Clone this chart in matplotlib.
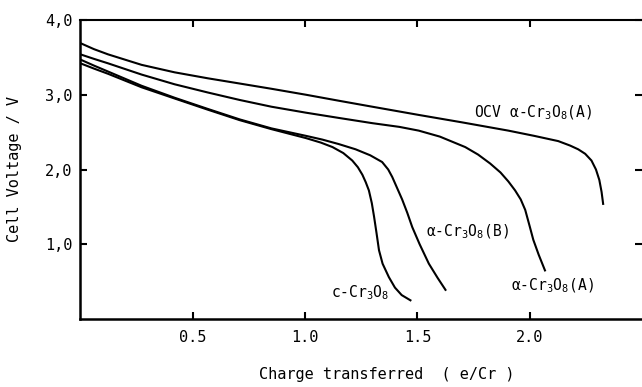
import numpy as np
import matplotlib
matplotlib.use("Agg")
from matplotlib import pyplot as plt

plt.rcParams['font.family'] = ['DejaVu Sans Mono']
plt.rcParams['mathtext.fontset'] = 'custom'
plt.rcParams['mathtext.rm'] = 'DejaVu Sans Mono'
plt.rcParams['mathtext.it'] = 'DejaVu Sans Mono'

# OCV a-Cr3O8(A)
ocv_x = [0.0, 0.06, 0.123, 0.272, 0.419, 0.567, 0.709, 0.85, 1.004, 1.15, 1.299,
         1.506, 1.7, 1.905, 2.02, 2.127, 2.18, 2.216, 2.247, 2.275, 2.295,
         2.31, 2.32, 2.327]
ocv_y = [3.69, 3.61, 3.54, 3.40, 3.30, 3.22, 3.15, 3.08, 3.00, 2.92, 2.84,
         2.73, 2.63, 2.52, 2.45, 2.38, 2.32, 2.27, 2.21, 2.12, 2.00,
         1.86, 1.70, 1.54]

# a-Cr3O8(A) discharge
aA_x = [0.0, 0.06, 0.123, 0.272, 0.419, 0.567, 0.709, 0.85, 1.004, 1.15, 1.299,
        1.42, 1.506, 1.6, 1.713, 1.77, 1.824, 1.87, 1.905, 1.935, 1.96,
        1.98, 2.0, 2.016, 2.04, 2.068]
aA_y = [3.54, 3.48, 3.42, 3.27, 3.14, 3.03, 2.93, 2.84, 2.76, 2.69, 2.62,
        2.57, 2.52, 2.44, 2.30, 2.20, 2.08, 1.96, 1.84, 1.72, 1.60,
        1.46, 1.24, 1.06, 0.86, 0.65]

# a-Cr3O8(B)
aB_x = [0.0, 0.06, 0.123, 0.272, 0.419, 0.567, 0.709, 0.85, 1.004, 1.077, 1.15,
        1.225, 1.29, 1.343, 1.37, 1.388, 1.41, 1.432, 1.455, 1.477, 1.51,
        1.551, 1.59, 1.625]
aB_y = [3.47, 3.39, 3.31, 3.12, 2.96, 2.81, 2.67, 2.55, 2.45, 2.40, 2.34,
        2.27, 2.19, 2.10, 2.00, 1.90, 1.75, 1.60, 1.42, 1.23, 1.00,
        0.74, 0.55, 0.39]

# c-Cr3O8
c_x = [0.0, 0.06, 0.123, 0.272, 0.419, 0.567, 0.709, 0.85, 1.004, 1.07, 1.122,
       1.17, 1.21, 1.235, 1.255, 1.27, 1.284, 1.297, 1.307, 1.318, 1.329,
       1.345, 1.373, 1.40, 1.43, 1.469]
c_y = [3.42, 3.35, 3.28, 3.10, 2.95, 2.80, 2.66, 2.54, 2.42, 2.36, 2.30,
       2.22, 2.12, 2.03, 1.93, 1.83, 1.72, 1.55, 1.37, 1.15, 0.92,
       0.74, 0.56, 0.42, 0.32, 0.25]

xticks = [0.5, 1.0, 1.5, 2.0]
xticklabels = ["0.5", "1.0", "1.5", "2.0"]
yticks = [1.0, 2.0, 3.0, 4.0]
yticklabels = ["1,0", "2,0", "3,0", "4,0"]

fig = plt.figure(figsize=(6.42, 3.87), dpi=100)
ax = fig.add_axes([80.5 / 642, 68 / 387, (642 - 80.5) / 642, 299 / 387])

for xs, ys in [(ocv_x, ocv_y), (aA_x, aA_y), (aB_x, aB_y), (c_x, c_y)]:
    ax.plot(xs, ys, color='black', lw=1.5, solid_joinstyle='round')

ax.set_xlim(0, 2.5)
ax.set_ylim(0, 4.0)
ax.set_xticks(xticks)
ax.set_xticklabels(xticklabels)
ax.set_yticks(yticks)
ax.set_yticklabels(yticklabels)
ax.tick_params(direction='in', length=5, width=1.5, labelsize=11,
               top=True, right=True, color='black')
ax.tick_params(axis='x', pad=8)
ax.tick_params(axis='y', pad=6)
ax.spines['right'].set_visible(False)
for s in ['left', 'bottom']:
    ax.spines[s].set_linewidth(1.8)
ax.spines['top'].set_linewidth(1.5)

ax.set_xlabel("Charge transferred  ( e/Cr )", fontsize=11)
ax.xaxis.set_label_coords(0.546, -0.16)
ax.set_ylabel("Cell Voltage / V", fontsize=11)
ax.yaxis.set_label_coords(-0.104, 0.5)

lab_kw = dict(fontsize=10.5, va='center', ha='left')
ax.text(1.75, 2.76, "OCV α-Cr$_3$O$_8$(A)", **lab_kw)
ax.text(1.537, 1.16, "α-Cr$_3$O$_8$(B)", **lab_kw)
ax.text(1.918, 0.45, "α-Cr$_3$O$_8$(A)", **lab_kw)
ax.text(1.116, 0.35, "c-Cr$_3$O$_8$", **lab_kw)

fig.savefig("out.png", dpi=100)
